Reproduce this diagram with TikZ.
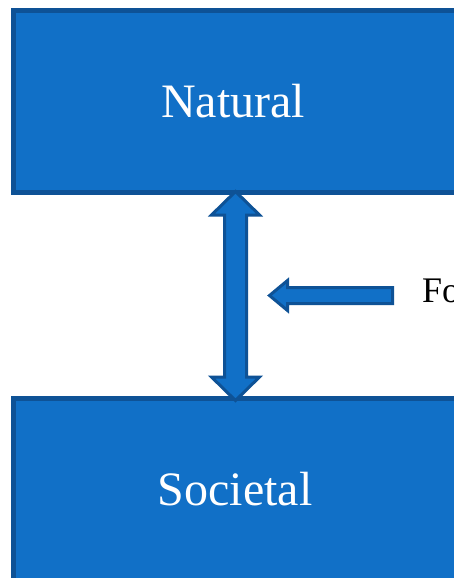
\documentclass[tikz,border=0pt]{standalone}
\usepackage{fontspec}
\setmainfont{Liberation Serif}
\definecolor{boxfill}{RGB}{17,112,199}
\definecolor{boxline}{RGB}{14,82,150}
\tikzset{
  bluebox/.style={fill=boxfill, draw=boxline, line width=5pt},
  bluearrow/.style={fill=boxfill, draw=boxline, line width=3pt, line join=miter},
  boxlabel/.style={text=white, inner sep=0pt, anchor=base, font=\fontsize{48}{58}\selectfont},
  sidelabel/.style={text=black, inner sep=0pt, anchor=base west, font=\fontsize{36}{43}\selectfont}
}
\begin{document}
\begin{tikzpicture}[x=1pt,y=-1pt]
\useasboundingbox (0,0) rectangle (453,578);
\fill[white] (0,0) rectangle (453,578);
% boxes
\draw[bluebox] (13.5,10.5) rectangle (480,192.5);
\draw[bluebox] (13.5,398.5) rectangle (480,600);
\node[boxlabel] (natural) at (233,117) {Natural};
\node[boxlabel] (societal) at (235,505) {Societal};
% double arrow
\coordinate (dtop) at (235.5,191.5);
\coordinate (dbot) at (235.5,400.5);
\draw[bluearrow] (dtop) -- ++(24,23.5) -- ++(-13,0) -- (246.5,377) -- ++(13,0) -- (dbot)
  -- ++(-24,-23.5) -- ++(13,0) -- (224.5,215) -- ++(-13,0) -- cycle;
% side arrow
\coordinate (stip) at (269.5,295.5);
\draw[bluearrow] (stip) -- ++(18,-15) -- ++(0,7) -- (392.5,287.5) -- ++(0,16) -- (287.5,303.5)
  -- ++(0,7) -- cycle;
\node[sidelabel] (fo) at (422,302) {Fo};
\end{tikzpicture}
\end{document}
